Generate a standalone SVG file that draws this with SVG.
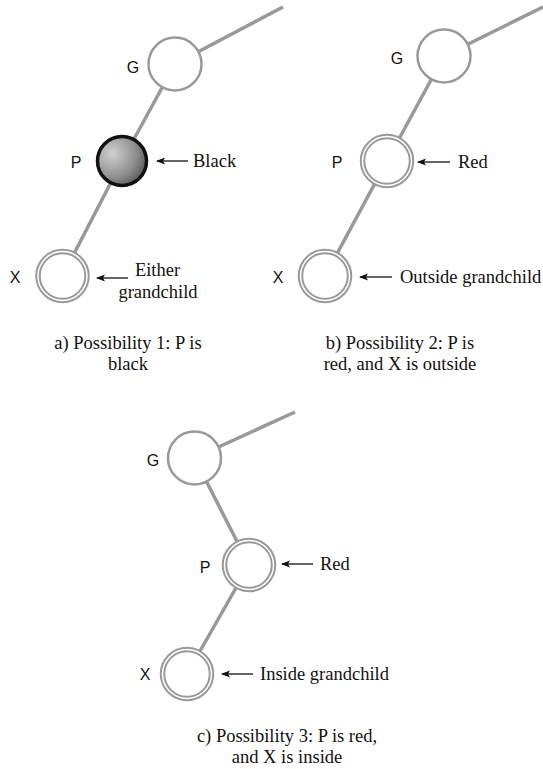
<svg xmlns="http://www.w3.org/2000/svg" width="543" height="769" viewBox="0 0 543 769">
<style>
.edge{stroke:#999;stroke-width:3.5;fill:none}
.ring{fill:#fff;stroke:#999;stroke-width:2.5}
.dbl{fill:#fff;stroke:#999;stroke-width:5.5}
.gap{fill:none;stroke:#fff;stroke-width:1.5}
.blk{fill:url(#shade);stroke:#111;stroke-width:3.5}
.lbl{font-family:"Liberation Sans",Arial,sans-serif;font-size:16px;fill:#111;text-anchor:middle}
.txt{font-family:"Liberation Serif","Times New Roman",serif;font-size:18.5px;fill:#111}
.cap{font-family:"Liberation Serif","Times New Roman",serif;font-size:18.5px;fill:#111;text-anchor:middle}
.arr{stroke:#111;stroke-width:1.3;fill:none;marker-start:url(#ah)}
</style>
<defs>
<radialGradient id="shade" cx="0.3" cy="0.35" r="0.8">
<stop offset="0" stop-color="#d0d0d0"/>
<stop offset="0.6" stop-color="#909090"/>
<stop offset="1" stop-color="#505050"/>
</radialGradient>
<marker id="ah" markerWidth="10" markerHeight="8" refX="1" refY="4" orient="auto" markerUnits="userSpaceOnUse">
<path d="M0,4 L9,0.5 L7,4 L9,7.5 Z" fill="#111"/>
</marker>
</defs>
<g id="connectors">
<line class="edge" x1="175" y1="64" x2="283" y2="7"/>
<line class="edge" x1="175" y1="64" x2="122" y2="161"/>
<line class="edge" x1="122" y1="161" x2="62.5" y2="276"/>
<line class="edge" x1="444" y1="56" x2="543" y2="7"/>
<line class="edge" x1="444" y1="56" x2="387" y2="161"/>
<line class="edge" x1="387" y1="161" x2="325" y2="276"/>
<line class="edge" x1="194.5" y1="458" x2="295" y2="412"/>
<line class="edge" x1="194.5" y1="458" x2="249" y2="565"/>
<line class="edge" x1="249" y1="565" x2="187" y2="674"/>
<line class="arr" x1="157" y1="161" x2="188" y2="161"/>
<line class="arr" x1="97" y1="278" x2="128" y2="278"/>
<line class="arr" x1="418" y1="162" x2="450" y2="162"/>
<line class="arr" x1="360" y1="277" x2="392" y2="277"/>
<line class="arr" x1="282" y1="564" x2="313" y2="564"/>
<line class="arr" x1="222" y1="674" x2="253" y2="674"/>
</g>
<g id="a-G"><circle class="ring" cx="175" cy="64" r="26.5"/><text class="lbl" x="133" y="73">G</text></g>
<g id="a-P"><circle class="blk" cx="122" cy="161" r="24.5"/><text class="lbl" x="76" y="168">P</text><text class="txt" x="193" y="167">Black</text></g>
<g id="a-X"><circle class="dbl" cx="62.5" cy="276" r="24.5"/><circle class="gap" cx="62.5" cy="276" r="24.5"/><text class="lbl" x="15" y="283">X</text><text class="txt" x="157.5" y="276" text-anchor="middle">Either</text><text class="txt" x="158" y="298" text-anchor="middle">grandchild</text></g>
<g id="a-caption"><text class="cap" x="128" y="349">a) Possibility 1: P is</text><text class="cap" x="128" y="370">black</text></g>
<g id="b-G"><circle class="ring" cx="444" cy="56" r="26.5"/><text class="lbl" x="397" y="64">G</text></g>
<g id="b-P"><circle class="dbl" cx="387" cy="161" r="24.5"/><circle class="gap" cx="387" cy="161" r="24.5"/><text class="lbl" x="337" y="168">P</text><text class="txt" x="458" y="168">Red</text></g>
<g id="b-X"><circle class="dbl" cx="325" cy="276" r="24.5"/><circle class="gap" cx="325" cy="276" r="24.5"/><text class="lbl" x="278" y="283">X</text><text class="txt" x="400" y="283">Outside grandchild</text></g>
<g id="b-caption"><text class="cap" x="400" y="349">b) Possibility 2: P is</text><text class="cap" x="400" y="370">red, and X is outside</text></g>
<g id="c-G"><circle class="ring" cx="194.5" cy="458" r="26.5"/><text class="lbl" x="153" y="466">G</text></g>
<g id="c-P"><circle class="dbl" cx="249" cy="565" r="24.5"/><circle class="gap" cx="249" cy="565" r="24.5"/><text class="lbl" x="205" y="573">P</text><text class="txt" x="320" y="570">Red</text></g>
<g id="c-X"><circle class="dbl" cx="187" cy="674" r="24.5"/><circle class="gap" cx="187" cy="674" r="24.5"/><text class="lbl" x="145" y="680">X</text><text class="txt" x="260" y="680">Inside grandchild</text></g>
<g id="c-caption"><text class="cap" x="287" y="742">c) Possibility 3: P is red,</text><text class="cap" x="287" y="763">and X is inside</text></g>
</svg>
